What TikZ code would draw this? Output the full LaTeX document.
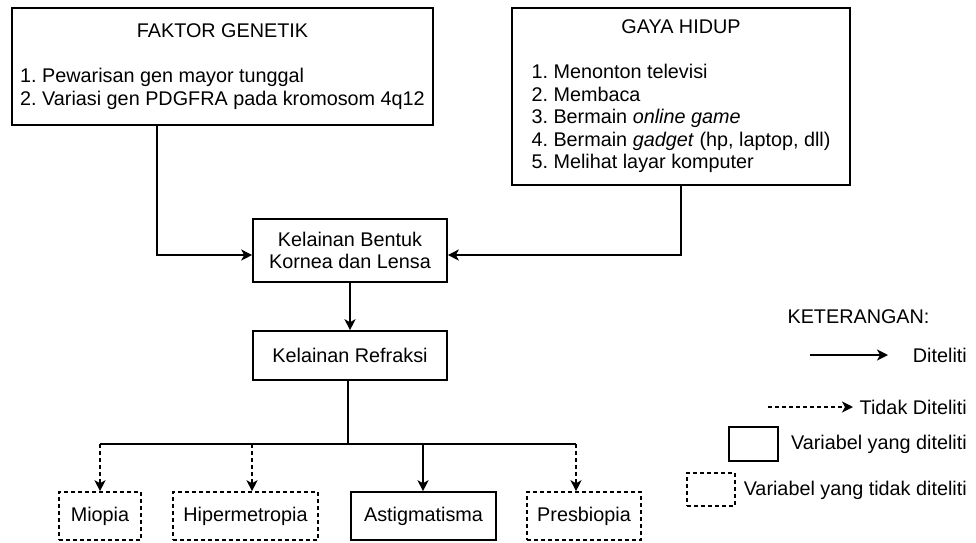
\documentclass[tikz,border=0pt]{standalone}
\usepackage{fontspec}
\setmainfont{Liberation Sans}
\usepackage{tikz}
\usetikzlibrary{arrows.meta, positioning}
\frenchspacing

\begin{document}
\begin{tikzpicture}[
    x=1pt, y=-1pt,
    font=\fontsize{19.8}{22.5}\selectfont,
    every node/.style={inner sep=0pt},
    box/.style={draw, line width=1.6pt, align=center},
    dashbox/.style={box, dash pattern=on 4pt off 3pt},
    arr/.style={line width=1.6pt, -{Stealth[length=11pt, width=11pt, inset=3pt]}},
    dasharr/.style={arr, dash pattern=on 4pt off 3pt},
    line/.style={line width=1.6pt}
  ]
    \useasboundingbox (0,0) rectangle (976,542);

    \node[box, minimum width=421, minimum height=117] (genetik) at (222.5,66.5)
        {\begin{tabular}{@{}l@{}}
         \multicolumn{1}{c}{FAKTOR GENETIK}\\[23pt]
         1. Pewarisan gen mayor tunggal\\
         2. Variasi gen PDGFRA pada kromosom 4q12
         \end{tabular}};
    \node[box, minimum width=338, minimum height=177] (gaya) at (681,96.5)
        {\begin{tabular}{@{}l@{}}
         \multicolumn{1}{c}{GAYA HIDUP}\\[23pt]
         1. Menonton televisi\\
         2. Membaca\\
         3. Bermain \emph{online game}\\
         4. Bermain \emph{gadget} (hp, laptop, dll)\\
         5. Melihat layar komputer
         \end{tabular}};

    \node[box, minimum width=194, minimum height=63] (bentuk) at (350,250.5)
        {Kelainan Bentuk\\Kornea dan Lensa};
    \node[box, minimum width=194, minimum height=49] (refraksi) at (350,355.5)
        {Kelainan Refraksi};

    \node[dashbox, minimum width=82, minimum height=48] (miopia) at (100,516) {Miopia};
    \node[dashbox, minimum width=145, minimum height=48] (hiper) at (245.5,516) {Hipermetropia};
    \node[box, minimum width=145, minimum height=48] (astig) at (423.5,516) {Astigmatisma};
    \node[dashbox, minimum width=114, minimum height=48] (presbi) at (584,516) {Presbiopia};

    \draw[arr] ([xshift=-65.5pt]genetik.south) |- ([yshift=-4.5pt]bentuk.west);
    \draw[arr] (gaya.south) |- ([yshift=-4.5pt]bentuk.east);
    \draw[arr] (bentuk.south) -- (refraksi.north);

    \coordinate (cm) at (100,444);
    \coordinate (ch) at (252,444);
    \coordinate (ca) at (423,444);
    \coordinate (cp) at (576,444);
    \draw[line] ([xshift=-2pt]refraksi.south) |- (cm);
    \draw[line] (cm) -- (cp);
    \draw[dasharr] (cm) -- (cm |- miopia.north);
    \draw[dasharr] (ch) -- (ch |- hiper.north);
    \draw[arr] (ca) -- (ca |- astig.north);
    \draw[dasharr] (cp) -- (cp |- presbi.north);

    % keterangan
    \node (ket) at (858.5,317) {KETERANGAN:};
    \coordinate (a1) at (810,355);
    \coordinate (a2) at (888,355);
    \draw[arr] (a1) -- (a2);
    \node[anchor=east] (lditeliti) at (967,355) {Diteliti};
    \coordinate (b1) at (768,407);
    \coordinate (b2) at (853,407);
    \draw[dasharr] (b1) -- (b2);
    \node[anchor=east] (ltidak) at (967,407) {Tidak Diteliti};
    \node[box, minimum width=49, minimum height=34] (kotak) at (753.5,444) {};
    \node[anchor=east] (lvar) at (967,444) {Variabel yang diteliti};
    \node[dashbox, minimum width=48, minimum height=33] (kotakdash) at (711,489.5) {};
    \node[anchor=east] (lvartidak) at (967,490) {Variabel yang tidak diteliti};
\end{tikzpicture}
\end{document}
